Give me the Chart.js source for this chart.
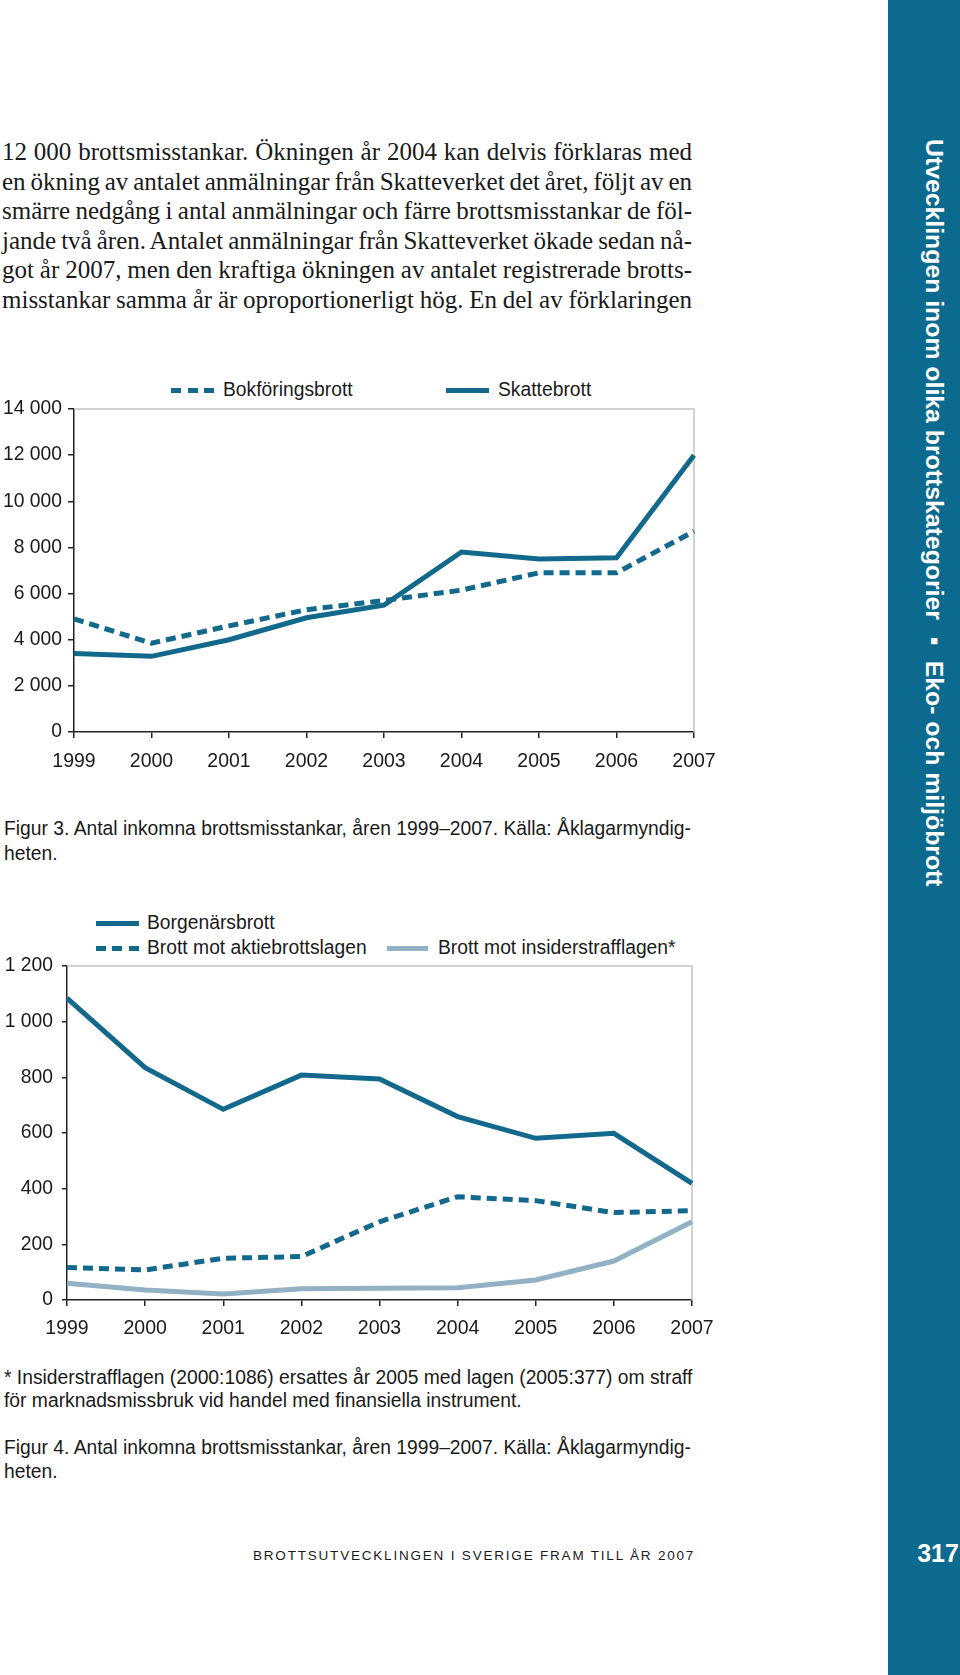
<!DOCTYPE html>
<html lang="sv">
<head>
<meta charset="utf-8">
<title>Antal inkomna brottsmisstankar 1999–2007</title>
<script src="https://cdn.jsdelivr.net/npm/chart.js@4.4.1/dist/chart.umd.min.js"></script>
<style>
  body { margin: 0; background: #fff; }
  #page { position: relative; width: 960px; height: 1675px; overflow: hidden; background: #fff; color: #1a1a1a; }
  .serif { font-family: "Liberation Serif", "DejaVu Serif", serif; }
  .sans { font-family: "Liberation Sans", Arial, sans-serif; }
  .para { position: absolute; left: 2px; width: 690px; font-size: 25px; line-height: 29.6px; }
  .para div { white-space: nowrap; height: 29.6px; }
  .para span { display: inline-block; }
  .txt { position: absolute; font-size: 19.3px; line-height: 24px; white-space: nowrap; }
  .box { position: absolute; }
  .leg { position: absolute; font-size: 19.3px; line-height: 20px; white-space: nowrap; }
  .swatch { position: absolute; height: 5px; }
  #side { position: absolute; left: 888px; top: 0; width: 72px; height: 1675px; background: #0b6a8e; }
  #sideText { position: absolute; left: 920px; top: 139px; writing-mode: vertical-rl; color: #fff;
              font-weight: bold; font-size: 24.8px; white-space: nowrap; }
  #pageNo { position: absolute; left: 900px; width: 76px; top: 1539px; text-align: center; color: #fff;
            font-weight: bold; font-size: 25px; }
  #footer { position: absolute; left: 253px; top: 1548px; font-size: 13.5px; letter-spacing: 1.8px; white-space: nowrap; }
</style>
</head>
<body>
<div id="page">
  <div class="para serif" style="top:137px">
    <div><span>12 000 brottsmisstankar. Ökningen år 2004 kan delvis förklaras med</span></div>
    <div><span>en ökning av antalet anmälningar från Skatteverket det året, följt av en</span></div>
    <div><span>smärre nedgång i antal anmälningar och färre brottsmisstankar de föl-</span></div>
    <div><span>jande två åren. Antalet anmälningar från Skatteverket ökade sedan nå-</span></div>
    <div><span>got år 2007, men den kraftiga ökningen av antalet registrerade brotts-</span></div>
    <div><span>misstankar samma år är oproportionerligt hög. En del av förklaringen</span></div>
  </div>

  <!-- Figur 3 legend -->
  <div class="swatch" id="lg1a" style="left:171px; top:388px; width:43px;"></div>
  <div class="leg sans" style="left:223px; top:380px;">Bokföringsbrott</div>
  <div class="swatch" id="lg1b" style="left:446px; top:388px; width:43px;"></div>
  <div class="leg sans" style="left:498px; top:380px;">Skattebrott</div>

  <div class="box" style="left:0; top:395px; width:720px; height:385px;"><canvas id="chart1"></canvas></div>

  <div class="txt sans" style="left:4px; top:817px;">Figur 3. Antal inkomna brottsmisstankar, åren 1999–2007. Källa: Åklagarmyndig-</div>
  <div class="txt sans" style="left:4px; top:842px;">heten.</div>

  <!-- Figur 4 legend -->
  <div class="swatch" id="lg2a" style="left:96px; top:921px; width:43px;"></div>
  <div class="leg sans" style="left:147px; top:913px;">Borgenärsbrott</div>
  <div class="swatch" id="lg2b" style="left:96px; top:946px; width:43px;"></div>
  <div class="leg sans" style="left:147px; top:938px;">Brott mot aktiebrottslagen</div>
  <div class="swatch" id="lg2c" style="left:387px; top:946px; width:41px;"></div>
  <div class="leg sans" style="left:438px; top:938px;">Brott mot insiderstrafflagen*</div>

  <div class="box" style="left:0; top:950px; width:720px; height:400px;"><canvas id="chart2"></canvas></div>

  <div class="txt sans" style="left:4px; top:1366px;">* Insiderstrafflagen (2000:1086) ersattes år 2005 med lagen (2005:377) om straff</div>
  <div class="txt sans" style="left:4px; top:1389px;">för marknadsmissbruk vid handel med finansiella instrument.</div>
  <div class="txt sans" style="left:4px; top:1436px;">Figur 4. Antal inkomna brottsmisstankar, åren 1999–2007. Källa: Åklagarmyndig-</div>
  <div class="txt sans" style="left:4px; top:1460px;">heten.</div>

  <div id="footer" class="sans">BROTTSUTVECKLINGEN I SVERIGE FRAM TILL ÅR 2007</div>

  <div id="side"></div>
  <div id="sideText" class="sans">Utvecklingen inom olika brottskategorier ▪ Eko- och miljöbrott</div>
  <div id="pageNo" class="sans">317</div>
</div>

<script>
const years = ["1999", "2000", "2001", "2002", "2003", "2004", "2005", "2006", "2007"];

// Figur 3
const bokforingsbrott = [4900, 3850, 4600, 5300, 5700, 6150, 6900, 6900, 8700];
const skattebrott = [3400, 3280, 4000, 4950, 5500, 7800, 7500, 7550, 12000];

// Figur 4
const borgenarsbrott = [1085, 835, 685, 808, 794, 659, 581, 599, 419];
const aktiebrottslagen = [117, 108, 150, 156, 281, 371, 357, 314, 321];
const insiderstrafflagen = [60, 36, 22, 40, 42, 44, 72, 140, 281];

const dark = "#12698b";
const light = "#93b1c5";
const axisColor = "#222";
const dash = [10, 6];

// justify each paragraph line to the column width
document.querySelectorAll(".para span").forEach(function (s) {
  const gaps = (s.textContent.match(/ /g) || []).length;
  const w = s.getBoundingClientRect().width;
  if (gaps) s.style.wordSpacing = ((690 - w) / gaps) + "px";
});

// legend swatches
const dashBg = "repeating-linear-gradient(90deg, " + dark + " 0 10px, transparent 10px 16.5px)";
document.getElementById("lg1a").style.background = dashBg;
document.getElementById("lg1b").style.background = dark;
document.getElementById("lg2a").style.background = dark;
document.getElementById("lg2b").style.background = dashBg;
document.getElementById("lg2c").style.background = light;

function spaced(v) {
  return String(v).replace(/\B(?=(\d{3})+(?!\d))/g, " ");
}

// light grey frame on top and right of the plot area
const frame = {
  id: "frame",
  beforeDatasetsDraw(chart) {
    const a = chart.chartArea;
    const ctx = chart.ctx;
    ctx.save();
    ctx.strokeStyle = "#c4c4c4";
    ctx.lineWidth = 1.5;
    ctx.beginPath();
    ctx.moveTo(a.left, a.top);
    ctx.lineTo(a.right, a.top);
    ctx.lineTo(a.right, a.bottom);
    ctx.stroke();
    ctx.restore();
  }
};

function line(data, color, dashed) {
  return {
    data: data,
    borderColor: color,
    borderWidth: 5,
    borderDash: dashed ? dash : [],
    pointRadius: 0,
    tension: 0,
    fill: false,
    clip: false
  };
}

function options(o) {
  return {
    responsive: true,
    maintainAspectRatio: false,
    animation: false,
    layout: { padding: { top: o.padTop, right: o.padRight, left: 0, bottom: 0 } },
    plugins: {
      legend: { display: false },
      tooltip: { enabled: false }
    },
    scales: {
      x: {
        offset: false,
        grid: { display: true, drawOnChartArea: false, drawTicks: true, tickLength: 6, color: axisColor, lineWidth: 1.5 },
        border: { display: true, color: axisColor, width: 1.5 },
        ticks: { color: "#1a1a1a", padding: o.xPad, maxRotation: 0, autoSkip: false, font: { family: "Liberation Sans", size: 19.5 } },
        afterFit(scale) {
          scale.height = o.xHeight;
          scale.paddingLeft = 0;
          scale.paddingRight = 0;
        }
      },
      y: {
        min: 0,
        max: o.max,
        grid: { display: true, drawOnChartArea: false, drawTicks: true, tickLength: o.yTick, color: axisColor, lineWidth: 1.5 },
        border: { display: true, color: axisColor, width: 1.5 },
        ticks: {
          stepSize: o.step,
          color: "#1a1a1a",
          padding: o.yPad,
          font: { family: "Liberation Sans", size: 19.3 },
          callback: function (v) { return spaced(v); }
        },
        afterFit(scale) {
          scale.width = o.yWidth;
          scale.paddingTop = 0;
          scale.paddingBottom = 0;
        }
      }
    }
  };
}

new Chart("chart1", {
  type: "line",
  data: {
    labels: years,
    datasets: [
      line(bokforingsbrott, dark, true),
      line(skattebrott, dark, false)
    ]
  },
  options: options({ max: 14000, step: 2000, padTop: 14, padRight: 26, xHeight: 48, xPad: 12, yWidth: 74, yTick: 6, yPad: 6 }),
  plugins: [frame]
});

new Chart("chart2", {
  type: "line",
  data: {
    labels: years,
    datasets: [
      line(insiderstrafflagen, light, false),
      line(aktiebrottslagen, dark, true),
      line(borgenarsbrott, dark, false)
    ]
  },
  options: options({ max: 1200, step: 200, padTop: 16, padRight: 28, xHeight: 50, xPad: 11, yWidth: 67, yTick: 5, yPad: 9 }),
  plugins: [frame]
});
</script>
</body>
</html>
